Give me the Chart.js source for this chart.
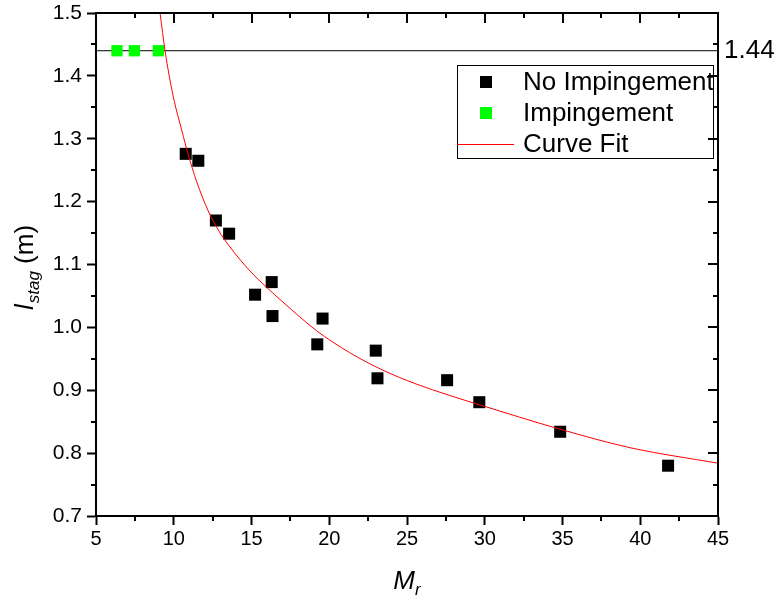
<!DOCTYPE html>
<html>
<head>
<meta charset="utf-8">
<script src="https://cdn.jsdelivr.net/npm/chart.js@4/dist/chart.umd.min.js"></script>
<style>
  html, body { margin: 0; padding: 0; background: #fff; }
</style>
</head>
<body>
<canvas id="stagChart" width="776" height="601"></canvas>
<script>
const noImpX = [10.77, 11.58, 12.71, 13.56, 15.23, 16.30, 16.35, 19.57, 19.23, 22.99, 23.10, 27.58, 29.65, 34.85, 41.79];
const noImpY = [1.276, 1.265, 1.170, 1.149, 1.052, 1.072, 1.018, 1.014, 0.973, 0.963, 0.919, 0.916, 0.881, 0.834, 0.780];
const impX = [6.35, 7.47, 9.01];
const impY = [1.44, 1.44, 1.44];

// fitted curve
const fitX = [9.12, 9.44, 9.97, 10.51, 10.94, 11.47, 12.22, 12.86, 13.55, 14.89, 15.96, 17.03, 19.17, 21.30, 23.44, 25.58, 27.71, 29.65, 34.85, 39.46, 45.0];
const fitY = [1.500, 1.440, 1.367, 1.314, 1.274, 1.232, 1.185, 1.155, 1.130, 1.090, 1.064, 1.040, 0.995, 0.960, 0.932, 0.910, 0.892, 0.877, 0.838, 0.808, 0.784];

const refLevel = 1.44;
const xTicks = [5, 10, 15, 20, 25, 30, 35, 40, 45];
const xMinor = [7.5, 12.5, 17.5, 22.5, 27.5, 32.5, 37.5, 42.5];
const yTicks = [0.7, 0.8, 0.9, 1.0, 1.1, 1.2, 1.3, 1.4, 1.5];
const yMinor = [0.75, 0.85, 0.95, 1.05, 1.15, 1.25, 1.35, 1.45];

const toPoints = (xs, ys) => xs.map((x, i) => ({ x: x, y: ys[i] }));

const FONT = '"Liberation Sans", Arial, sans-serif';

// frame, minor ticks, legend, axis titles and the 1.44 label
const extras = {
  id: 'extras',
  afterDraw(chart) {
    const ctx = chart.ctx;
    const ca = chart.chartArea;
    const xs = chart.scales.x;
    const ys = chart.scales.y;
    ctx.save();
    ctx.strokeStyle = '#000';
    ctx.fillStyle = '#000';

    // top and right axis lines
    ctx.lineWidth = 2;
    ctx.beginPath();
    ctx.moveTo(ca.left - 1, ca.top);
    ctx.lineTo(ca.right, ca.top);
    ctx.lineTo(ca.right, ca.bottom + 1);
    ctx.stroke();

    // ticks
    ctx.lineWidth = 2;
    ctx.beginPath();
    xMinor.forEach(v => {
      const px = Math.round(xs.getPixelForValue(v));
      ctx.moveTo(px, ca.bottom); ctx.lineTo(px, ca.bottom + 5);
      ctx.moveTo(px, ca.top); ctx.lineTo(px, ca.top + 5);
    });
    xTicks.forEach(v => {
      const px = Math.round(xs.getPixelForValue(v));
      ctx.moveTo(px, ca.top); ctx.lineTo(px, ca.top + 10);
    });
    yMinor.forEach(v => {
      const py = Math.round(ys.getPixelForValue(v));
      ctx.moveTo(ca.left, py); ctx.lineTo(ca.left - 5, py);
      ctx.moveTo(ca.right, py); ctx.lineTo(ca.right - 5, py);
    });
    yTicks.forEach(v => {
      const py = Math.round(ys.getPixelForValue(v));
      ctx.moveTo(ca.right, py); ctx.lineTo(ca.right - 10, py);
    });
    ctx.stroke();

    // reference level label
    ctx.font = '26px ' + FONT;
    ctx.textAlign = 'left';
    ctx.textBaseline = 'middle';
    ctx.fillText(String(refLevel), ca.right + 6, ys.getPixelForValue(refLevel));

    // legend
    const bx = ca.right - 261, by = ca.top + 52, bw = 256, bh = 93;
    ctx.lineWidth = 1;
    ctx.strokeRect(bx + 0.5, by + 0.5, bw, bh);
    const rows = ['No Impingement', 'Impingement', 'Curve Fit'];
    ctx.font = '26px ' + FONT;
    ctx.textBaseline = 'middle';
    rows.forEach((label, i) => {
      const ds = chart.data.datasets.find(d => d.label === label);
      const cy = by + 17 + i * 31;
      if (ds.showLine) {
        ctx.strokeStyle = ds.borderColor;
        ctx.lineWidth = 1;
        ctx.beginPath();
        ctx.moveTo(bx, cy + 0.5); ctx.lineTo(bx + 57, cy + 0.5);
        ctx.stroke();
      } else {
        ctx.fillStyle = ds.pointBackgroundColor;
        ctx.fillRect(bx + 23, cy - 6, 12, 12);
      }
      ctx.fillStyle = '#000';
      ctx.fillText(label, bx + 66, cy + 1);
    });

    // x title: M_r
    ctx.textBaseline = 'alphabetic';
    ctx.textAlign = 'left';
    const big = 'italic 26px ' + FONT, small = 'italic 17px ' + FONT;
    ctx.font = big;
    const wM = ctx.measureText('M').width;
    ctx.font = small;
    const wr = ctx.measureText('r').width;
    let sx = (ca.left + ca.right) / 2 - (wM + wr) / 2;
    ctx.font = big; ctx.fillText('M', sx, 589);
    ctx.font = small; ctx.fillText('r', sx + wM, 595);

    // y title: l_stag (m)
    ctx.translate(33, 268);
    ctx.rotate(-Math.PI / 2);
    ctx.font = big;
    const wl = ctx.measureText('l').width;
    ctx.font = small;
    const ws = ctx.measureText('stag').width;
    ctx.font = '26px ' + FONT;
    const wu = ctx.measureText(' (m)').width;
    sx = -(wl + ws + wu) / 2;
    ctx.font = big; ctx.fillText('l', sx, 0);
    ctx.font = small; ctx.fillText('stag', sx + wl + 1, 6);
    ctx.font = '26px ' + FONT; ctx.fillText(' (m)', sx + wl + ws + 1, 0);
    ctx.restore();
  }
};

const ctx = document.getElementById('stagChart').getContext('2d');
const stagChart = new Chart(ctx, {
  type: 'scatter',
  data: {
    datasets: [
      {
        label: 'Curve Fit',
        data: toPoints(fitX, fitY),
        showLine: true,
        borderColor: '#ff0000',
        borderWidth: 1,
        pointRadius: 0,
        cubicInterpolationMode: 'monotone',
        order: 0
      },
      {
        label: 'Impingement',
        data: toPoints(impX, impY),
        pointStyle: 'rect',
        pointRadius: 8,
        pointBackgroundColor: '#00ff00',
        pointBorderWidth: 0,
        borderWidth: 0,
        order: 1
      },
      {
        label: 'No Impingement',
        data: toPoints(noImpX, noImpY),
        pointStyle: 'rect',
        pointRadius: 8.5,
        pointBackgroundColor: '#000000',
        pointBorderWidth: 0,
        borderWidth: 0,
        order: 2
      },
      {
        data: [{ x: 5, y: refLevel }, { x: 45, y: refLevel }],
        showLine: true,
        borderColor: '#000000',
        borderWidth: 1,
        pointRadius: 0,
        order: 3
      }
    ]
  },
  options: {
    responsive: false,
    animation: false,
    devicePixelRatio: 1,
    layout: { padding: { top: 13, right: 58, left: 0, bottom: 0 } },
    plugins: {
      legend: { display: false },
      tooltip: { enabled: false }
    },
    scales: {
      x: {
        type: 'linear',
        min: 5,
        max: 45,
        afterBuildTicks: s => { s.ticks = xTicks.map(v => ({ value: v })); },
        afterFit: s => { s.height = 85; s.paddingLeft = 0; s.paddingRight = 0; },
        ticks: { color: '#000', font: { family: FONT, size: 20 }, padding: 2, maxRotation: 0 },
        grid: { drawOnChartArea: false, drawTicks: true, tickLength: 9, tickWidth: 2, tickColor: '#000' },
        border: { display: true, width: 2, color: '#000' }
      },
      y: {
        type: 'linear',
        min: 0.7,
        max: 1.5,
        afterBuildTicks: s => { s.ticks = yTicks.map(v => ({ value: v })); },
        afterFit: s => { s.width = 96; s.paddingTop = 0; s.paddingBottom = 0; },
        ticks: { color: '#000', font: { family: FONT, size: 21 }, padding: 5, callback: v => v.toFixed(1) },
        grid: { drawOnChartArea: false, drawTicks: true, tickLength: 9, tickWidth: 2, tickColor: '#000' },
        border: { display: true, width: 2, color: '#000' }
      }
    }
  },
  plugins: [extras]
});
</script>
</body>
</html>
